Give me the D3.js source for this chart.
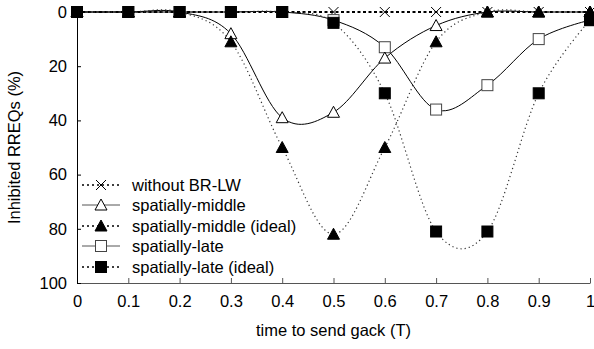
<!DOCTYPE html>
<html>
<head>
<meta charset="utf-8">
<script src="https://cdn.jsdelivr.net/npm/d3@7"></script>
<style>
body { margin: 0; background: #fff; }
svg { font-family: "Liberation Sans", Arial, sans-serif; }
</style>
</head>
<body>
<svg width="594" height="349"></svg>
<script>
//data
var times = [0, 0.1, 0.2, 0.3, 0.4, 0.5, 0.6, 0.7, 0.8, 0.9, 1];
var withoutBR = [0, 0, 0, 0, 0, 0, 0, 0, 0, 0, 0];
var middle = [0, 0, 0, 8, 39, 37, 17, 5, 0, 0, 0];
var middleIdeal = [0, 0, 0, 11, 50, 82, 50, 11, 0, 0, 0];
var late = [0, 0, 0, 0, 0, 3, 13, 36, 27, 10, 3];
var lateIdeal = [0, 0, 0, 0, 0, 4, 30, 81, 81, 30, 3];
var xTicks = [0, 0.1, 0.2, 0.3, 0.4, 0.5, 0.6, 0.7, 0.8, 0.9, 1];
var yTicks = [0, 20, 40, 60, 80, 100];

//style: "dash" thick dashes, "dot" fine dots, "solid"
var series = [
    {name: "without BR-LW", values: withoutBR, marker: "cross", style: "dash"},
    {name: "spatially-middle", values: middle, marker: "triOpen", style: "solid"},
    {name: "spatially-middle (ideal)", values: middleIdeal, marker: "triFill", style: "dot"},
    {name: "spatially-late", values: late, marker: "sqOpen", style: "solid"},
    {name: "spatially-late (ideal)", values: lateIdeal, marker: "sqFill", style: "dot"}
];

//sizes
var svg = d3.select("svg"),
    plotLeft = 77, plotRight = 590, plotTop = 12, plotBottom = 283,
    fontSize = 16.5;

var scaleX = d3.scaleLinear().domain([0, 1]).range([plotLeft, plotRight]);
var scaleY = d3.scaleLinear().domain([0, 100]).range([plotTop, plotBottom]);

//x axis
var gx = svg.append("g")
    .attr("transform", "translate(0," + plotBottom + ")")
    .call(d3.axisBottom(scaleX).tickValues(xTicks).tickSize(0).tickPadding(12)
        .tickFormat(d => d === 0 || d === 1 ? d : d3.format(".1f")(d)));
gx.select(".domain").attr("stroke", "#555");
gx.selectAll("text").attr("font-size", fontSize).attr("fill", "#000");
gx.selectAll(".tick").append("line")
    .attr("y2", -5).attr("stroke", "#555");

//y axis
var gy = svg.append("g")
    .attr("transform", "translate(" + plotLeft + ",0)")
    .call(d3.axisLeft(scaleY).tickValues(yTicks).tickSize(0).tickPadding(10));
gy.select(".domain").attr("stroke", "#000");
gy.selectAll("text").attr("font-size", fontSize).attr("fill", "#000");
gy.selectAll(".tick").append("line")
    .attr("x2", 4).attr("stroke", "#000");

//labels
svg.append("text")
    .attr("x", (plotLeft + plotRight) / 2)
    .attr("y", 336)
    .attr("text-anchor", "middle")
    .attr("font-size", fontSize)
    .text("time to send gack (T)");

svg.append("text")
    .attr("transform", "translate(20," + (plotTop + plotBottom) / 2 + ") rotate(-90)")
    .attr("text-anchor", "middle")
    .attr("font-size", fontSize)
    .text("Inhibited RREQs (%)");

var line = d3.line()
    .x((d, i) => scaleX(times[i]))
    .y(d => scaleY(d))
    .curve(d3.curveCardinal.tension(0));

function styleLine(sel, style) {
    if (style === "dash") {
        sel.attr("stroke", "#000").attr("stroke-width", 2).attr("stroke-dasharray", "3,2.5");
    } else if (style === "dot") {
        sel.attr("stroke", "#333").attr("stroke-width", 1.2).attr("stroke-dasharray", "1.2,3");
    } else {
        sel.attr("stroke", "#000").attr("stroke-width", 1);
    }
}

function drawMarker(g, type, x, y) {
    if (type === "cross") {
        g.append("path")
            .attr("d", "M" + (x - 5) + "," + (y - 5) + "L" + (x + 5) + "," + (y + 5) +
                "M" + (x - 5) + "," + (y + 5) + "L" + (x + 5) + "," + (y - 5))
            .attr("stroke", "#000").attr("stroke-width", 1).attr("fill", "none");
    } else if (type === "triOpen" || type === "triFill") {
        g.append("path")
            .attr("d", "M" + x + "," + (y - 6) + "L" + (x + 6) + "," + (y + 5) + "L" + (x - 6) + "," + (y + 5) + "Z")
            .attr("fill", type === "triFill" ? "#000" : "#fff")
            .attr("stroke", "#000").attr("stroke-width", 1);
    } else {
        g.append("rect")
            .attr("x", x - 5.5).attr("y", y - 5.5)
            .attr("width", 11).attr("height", 11)
            .attr("fill", type === "sqFill" ? "#000" : "#fff")
            .attr("stroke", type === "sqFill" ? "#000" : "#444").attr("stroke-width", 1);
    }
}

//lines
var gLines = svg.append("g");
series.forEach(s => {
    gLines.append("path")
        .attr("d", line(s.values))
        .attr("fill", "none")
        .call(styleLine, s.style);
});

//markers
var order = [0, 3, 1, 4, 2];
order.forEach(k => {
    var s = series[k];
    var g = svg.append("g");
    s.values.forEach((v, i) => drawMarker(g, s.marker, scaleX(times[i]), scaleY(v)));
});

//legend
var legendY = [185, 205, 226, 246, 267];
var gLegend = svg.append("g");
series.forEach((s, i) => {
    var y = legendY[i];
    var l = gLegend.append("line")
        .attr("x1", 82).attr("x2", 120).attr("y1", y).attr("y2", y);
    if (s.style === "solid") {
        l.attr("stroke", "#555").attr("stroke-width", 1);
    } else {
        l.attr("stroke", "#000").attr("stroke-width", 1.6).attr("stroke-dasharray", "2,3");
    }
    drawMarker(gLegend, s.marker, 101, y);
    gLegend.append("text")
        .attr("x", 132).attr("y", y + 6)
        .attr("font-size", fontSize)
        .text(s.name);
});
</script>
</body>
</html>
